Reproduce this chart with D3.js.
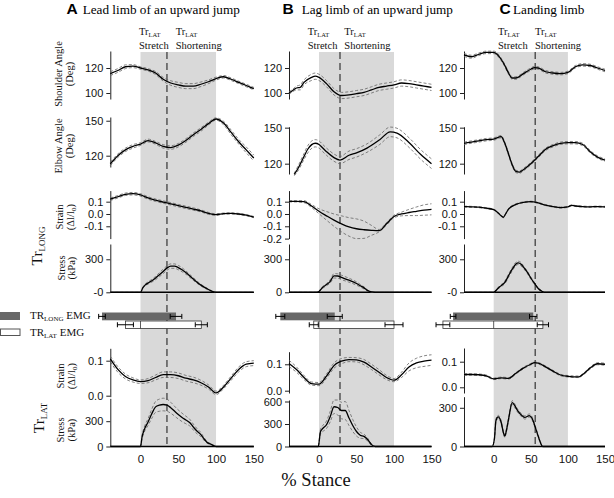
<!DOCTYPE html>
<html><head><meta charset="utf-8">
<script src="https://cdn.jsdelivr.net/npm/d3@7"></script>
<style>body{margin:0;background:#fff}svg{display:block}</style>
</head><body><svg id="c" width="614" height="498"></svg>
<script>
// ---------------- DATA ([% stance, mean, SD]) ----------------
const panelLetters = ["A", "B", "C"];
const panelTitles = ["Lead limb of an upward jump", "Lag limb of an upward jump", "Landing limb"];
const stanceTicks = [0, 50, 100, 150];
const phaseStart = 0, phaseEnd = 100;
const transitionStance = [35, 28, 56];

const shoulderA = [[-40,115.5,1.5],[-30,118,1.5],[-20,121,1.5],[-10,121.5,1.2],[0,120,1],[10,118.5,1],[20,116,1.2],[30,111,1.5],[40,108,1.8],[50,106.5,2],[60,105.5,2],[70,105.5,2],[80,107,1.8],[90,109,1.5],[100,111.5,1.2],[110,113,1],[120,111,1],[130,108.5,1],[140,106,1],[150,103.5,1]];
const shoulderB = [[-40,100,1],[-35,102,1],[-30,104,1.5],[-25,104.5,2],[-20,108.5,2],[-10,112.5,2.5],[-5,113.5,2.5],[0,112.5,2.5],[10,107.5,2.5],[20,101,2.5],[30,98,2.5],[40,98.5,2.5],[50,99.5,2.5],[60,100.5,2.5],[70,102.5,2.5],[80,104.5,2.5],[90,105.5,2.5],[100,106.5,2.5],[110,108,2.5],[120,107.5,2.5],[130,106.5,2.5],[140,105.5,2.5],[150,104.5,2.5]];
const shoulderC = [[-40,130.5,1.2],[-30,129,1.2],[-20,131,1],[-10,132.5,1],[0,132.5,1],[10,127,1],[15,122,1],[20,116,1],[25,112,1],[30,112,1],[40,115.5,1],[50,119,1],[55,120.3,1],[60,120,1],[70,117,1],[80,116,1],[90,115.5,1],[100,116.5,1],[110,121,1],[120,122.5,1],[130,122,1],[140,120,1],[150,118,1]];

const elbowA = [[-40,113,1.5],[-30,120,1.5],[-20,125,1.5],[-10,128,1.5],[0,130,1.2],[10,133,1.2],[20,131,1.2],[30,128,1.5],[40,127,1.5],[50,129,1.5],[60,133,1.5],[70,138,1.5],[80,142.5,1.5],[90,147.5,1.2],[100,151.5,1],[110,148,1.5],[120,140,2],[130,132,2],[140,125,2.5],[150,118,2.5]];
const elbowB = [[-33,111,1],[-28,116,2],[-20,126,2.5],[-15,132,3],[-5,137,3],[0,136,3],[5,133,3],[10,130,3],[20,125,3],[28,123,3],[40,127,3.5],[50,129,3.5],[64,133,3.5],[81,140,4],[95,146.5,4],[104,145.5,4],[121,137,4],[135,128,4],[150,120,4]];
const elbowC = [[-40,137,1],[-30,138,1],[-20,139,1],[-10,140,1],[0,140.5,1],[10,142.5,1],[15,137,1],[20,128,1],[25,119,1],[30,113.5,1],[35,113,1],[40,115,1],[50,120,1],[60,126,1],[70,132,1],[80,135,1],[90,137,1],[100,137.5,1],[110,137.5,1],[120,136,1],[130,130,1],[140,125.5,1],[150,123,1]];

const strainLongA = [[-40,0.12,0.01],[-30,0.14,0.01],[-20,0.16,0.01],[-10,0.165,0.01],[0,0.155,0.01],[10,0.13,0.01],[20,0.112,0.01],[30,0.097,0.01],[40,0.083,0.01],[50,0.068,0.01],[60,0.054,0.01],[70,0.04,0.01],[80,0.025,0.008],[90,0.005,0.008],[100,-0.005,0.006],[110,0.003,0.005],[120,0.005,0.005],[130,0.0,0.005],[140,-0.01,0.005],[150,-0.025,0.005]];
const strainLongB = [[-40,0.103,0.005],[-30,0.103,0.005],[-20,0.1,0.008],[-10,0.065,0.012],[0,0.022,0.02],[10,-0.015,0.035],[20,-0.05,0.05],[30,-0.08,0.065],[40,-0.105,0.075],[50,-0.12,0.08],[60,-0.128,0.07],[70,-0.133,0.04],[80,-0.136,0.01],[90,-0.08,0.01],[100,-0.02,0.01],[110,0.0,0.015],[120,0.012,0.025],[130,0.022,0.035],[140,0.032,0.042],[150,0.038,0.045]];
const strainLongC = [[-40,0.06,0.004],[-30,0.058,0.004],[-20,0.055,0.004],[-10,0.047,0.004],[0,0.035,0.004],[5,0.015,0.004],[10,-0.015,0.004],[13,-0.027,0.004],[16,0.0,0.004],[20,0.04,0.004],[30,0.078,0.004],[40,0.095,0.004],[50,0.1,0.004],[60,0.09,0.004],[70,0.072,0.004],[80,0.06,0.004],[90,0.052,0.004],[100,0.058,0.004],[105,0.07,0.004],[110,0.065,0.004],[120,0.06,0.004],[130,0.058,0.004],[140,0.06,0.004],[150,0.058,0.004]];

const stressLongA = [[-40,0,0],[0,0,0],[3,40,5],[6,65,8],[10,85,10],[15,105,12],[20,130,15],[25,160,18],[30,190,20],[35,220,20],[40,238,20],[45,238,20],[50,225,20],[55,205,18],[60,180,15],[70,120,12],[80,65,8],[90,25,5],[95,8,2],[100,0,0],[150,0,0]];
const stressLongB = [[-40,0,0],[-3,0,0],[0,8,3],[5,45,8],[10,70,10],[15,100,15],[20,150,20],[25,148,20],[30,135,20],[40,110,18],[50,80,15],[55,60,12],[60,40,10],[65,15,5],[70,3,2],[75,0,0],[150,0,0]];
const stressLongC = [[-40,0,0],[0,0,0],[5,30,5],[8,50,8],[12,70,10],[15,90,12],[20,150,15],[25,210,15],[30,258,15],[33,268,15],[37,255,15],[40,230,12],[45,185,10],[50,130,10],[55,80,8],[60,35,5],[65,10,3],[68,0,0],[150,0,0]];

const strainLatA = [[-40,0.105,0.008],[-30,0.075,0.008],[-20,0.055,0.007],[-10,0.045,0.006],[0,0.04,0.005],[10,0.043,0.006],[20,0.052,0.007],[30,0.06,0.008],[40,0.06,0.008],[50,0.057,0.008],[60,0.05,0.008],[70,0.045,0.008],[80,0.037,0.007],[90,0.025,0.006],[100,0.008,0.005],[110,0.025,0.005],[120,0.05,0.006],[130,0.075,0.007],[140,0.09,0.007],[150,0.093,0.007]];
const strainLatB = [[-40,0.103,0.012],[-30,0.08,0.01],[-20,0.05,0.008],[-10,0.027,0.006],[0,0.025,0.006],[10,0.055,0.008],[20,0.095,0.01],[30,0.112,0.01],[40,0.118,0.008],[50,0.117,0.008],[60,0.108,0.01],[70,0.09,0.01],[80,0.07,0.01],[90,0.05,0.008],[100,0.04,0.006],[110,0.06,0.01],[120,0.09,0.015],[130,0.105,0.018],[140,0.112,0.02],[150,0.116,0.02]];
const strainLatC = [[-40,0.05,0.003],[-30,0.05,0.003],[-20,0.049,0.003],[-10,0.045,0.003],[0,0.033,0.003],[10,0.037,0.003],[20,0.035,0.003],[30,0.055,0.003],[40,0.075,0.003],[50,0.09,0.003],[55,0.096,0.003],[60,0.094,0.003],[70,0.08,0.003],[80,0.063,0.003],[90,0.048,0.003],[100,0.043,0.003],[115,0.041,0.003],[120,0.05,0.003],[130,0.075,0.004],[140,0.092,0.004],[150,0.09,0.004]];

const stressLatA = [[-40,0,0],[0,0,0],[2,110,20],[5,200,30],[10,290,40],[15,390,55],[20,470,65],[25,490,72],[30,498,75],[35,490,72],[40,460,65],[48,395,55],[55,345,50],[60,315,45],[65,285,40],[70,230,35],[75,180,30],[79,150,25],[85,80,15],[88,50,10],[94,24,6],[98,5,2],[100,0,0],[150,0,0]];
const stressLatB = [[-40,0,0],[-1,0,0],[2,200,30],[5,240,40],[10,290,50],[15,400,70],[20,530,90],[25,520,100],[30,480,110],[35,480,120],[40,380,100],[45,280,80],[50,200,60],[55,150,40],[60,135,30],[65,90,20],[70,25,10],[75,0,0],[150,0,0]];
const stressLatC = [[-40,0,0],[-2,0,0],[1,60,8],[3,200,12],[6,230,12],[10,190,12],[13,110,10],[15,80,10],[17,120,10],[20,210,12],[25,340,15],[28,320,15],[32,280,12],[38,240,12],[42,225,12],[48,240,12],[52,215,12],[56,150,10],[60,80,8],[63,30,5],[66,0,0],[150,0,0]];

// EMG on/off: [onset, onsetSD, offset, offsetSD] per panel
const emgLong = [[-51,4.4,47,7.7],[-51.6,6,21,10],[-54.7,3.8,53.3,5]];
const emgLat  = [[-20,10.6,80.5,8],[-7,6,100,12],[-68.4,9.3,66.3,7.6]];

// tick values and labels per row, per panel
const tickVals = {
  shoulder:   [[100,120],[100,120],[100,120]],
  elbow:      [[120,150],[120,150],[120,150]],
  strainLong: [[-0.1,0,0.1],[-0.2,-0.1,0,0.1],[-0.1,0,0.1]],
  stressLong: [[0,300],[0,300],[0,300]],
  strainLat:  [[0,0.1],[0,0.1],[0,0.1]],
  stressLat:  [[0,300],[0,300,600],[0,300]]
};
const tickText = {
  shoulder:   [["100","120"],["100","120"],["100","120"]],
  elbow:      [["120","150"],["120","150"],["120","150"]],
  strainLong: [["-0.1","0.0","0.1"],["-0.2","-0.1","0.0","0.1"],["-0.1","0.0","0.1"]],
  stressLong: [["-0","300"],["0","300"],["-0","300"]],
  strainLat:  [["0.0","0.1"],["0.0","0.1"],["0.0","0.1"]],
  stressLat:  [["0","300"],["0","300","600"],["0","300"]]
};

const series = {
  shoulder:   [shoulderA, shoulderB, shoulderC],
  elbow:      [elbowA, elbowB, elbowC],
  strainLong: [strainLongA, strainLongB, strainLongC],
  stressLong: [stressLongA, stressLongB, stressLongC],
  strainLat:  [strainLatA, strainLatB, strainLatC],
  stressLat:  [stressLatA, stressLatB, stressLatC]
};

// ---------------- LAYOUT ----------------
const SERIF = '"Liberation Serif","Times New Roman",serif';
const SANS = '"Liberation Sans",Arial,sans-serif';
const panelX = [[110.3,253.8],[289,431.5],[464,605]];
const titleX = [[66.5,82.7],[282.5,301.7],[499.5,513]];
const annX = [[139,175.7],[307.7,344.3],[498,535]];
const rowGeom = {
  shoulder:   [{r:[99,51],d:[95.2,133.6]},{r:[99,51],d:[95.2,133.6]},{r:[99,51],d:[95.2,133.6]}],
  elbow:      [{r:[167,117],d:[110.3,153.2]},{r:[174,126.7],d:[111.4,150.8]},{r:[174,126.7],d:[111.4,150.8]}],
  strainLong: [{r:[238.6,190.6],d:[-0.2,0.19]},{r:[238.6,190.6],d:[-0.2,0.19]},{r:[238.6,190.6],d:[-0.2,0.19]}],
  stressLong: [{r:[292.3,244],d:[0,439]},{r:[292.3,244],d:[0,439]},{r:[292.3,244],d:[0,439]}],
  strainLat:  [{r:[396.7,348.3],d:[-0.00286,0.1354]},{r:[393,351.7],d:[-0.0087,0.1477]},{r:[393,348],d:[-0.0223,0.1535]}],
  stressLat:  [{r:[446.5,398.3],d:[0,571.6]},{r:[446.5,400],d:[0,620]},{r:[446.5,396.7],d:[0,386]}]
};
const rows = ["shoulder","elbow","strainLong","stressLong","strainLat","stressLat"];

const svg = d3.select("#c");

panelLetters.forEach((L, p) => {
  const x = d3.scaleLinear().domain([-40,150]).range(panelX[p]);
  const g = svg.append("g");

  // shaded stance phase
  g.append("rect").attr("x", x(phaseStart)).attr("y", 52)
    .attr("width", x(phaseEnd) - x(phaseStart)).attr("height", 446.5 - 52)
    .attr("fill", "#d9d9d9");

  // dashed transition line
  g.append("line").attr("x1", x(transitionStance[p])).attr("x2", x(transitionStance[p]))
    .attr("y1", 52).attr("y2", 446.5)
    .attr("stroke", "#555").attr("stroke-width", 1.5).attr("stroke-dasharray", "7,4");

  // title
  svg.append("text").attr("x", titleX[p][0]).attr("y", 14).text(L)
    .attr("font-family", SANS).attr("font-weight", "bold").attr("font-size", 15.5);
  svg.append("text").attr("x", titleX[p][1]).attr("y", 14).text(panelTitles[p])
    .attr("font-family", SERIF).attr("font-size", 13.2);

  // annotations
  annX[p].forEach((ax, i) => {
    const t = svg.append("text").attr("x", ax).attr("y", 34.5)
      .attr("font-family", SERIF).attr("font-size", 10.5).attr("fill", "#111");
    t.append("tspan").text("Tr");
    t.append("tspan").text("LAT").attr("font-size", 6.5).attr("dy", 2);
    svg.append("text").attr("x", ax).attr("y", 48.5).text(i === 0 ? "Stretch" : "Shortening")
      .attr("font-family", SERIF).attr("font-size", 10.5).attr("fill", "#111");
  });

  // rows
  rows.forEach(rk => {
    const geo = rowGeom[rk][p];
    const y = d3.scaleLinear().domain(geo.d).range(geo.r);
    const data = series[rk][p];
    const ax = g.append("g").attr("transform", `translate(${panelX[p][0]},0)`)
      .call(d3.axisLeft(y).tickValues(tickVals[rk][p]).tickSizeInner(4).tickSizeOuter(0).tickPadding(3)
        .tickFormat((d, i) => tickText[rk][p][i]));
    ax.selectAll("text").attr("font-family", SANS).attr("font-size", 11).attr("fill", "#111");
    ax.select(".domain").attr("stroke", "#222");
    ax.selectAll(".tick line").attr("stroke", "#222");

    if (rk === "stressLong" || rk === "stressLat") {
      g.append("line").attr("x1", panelX[p][0]).attr("x2", panelX[p][1])
        .attr("y1", y(0)).attr("y2", y(0)).attr("stroke", "#000").attr("stroke-width", 1.5);
    }
    const mk = f => d3.line().x(d => x(d[0])).y(f).curve(d3.curveMonotoneX);
    [1, -1].forEach(s => {
      g.append("path").datum(data).attr("d", mk(d => y(d[1] + s * d[2])))
        .attr("fill", "none").attr("stroke", "#666").attr("stroke-width", 0.8)
        .attr("stroke-dasharray", "3,2");
    });
    g.append("path").datum(data).attr("d", mk(d => y(d[1])))
      .attr("fill", "none").attr("stroke", "#000").attr("stroke-width", 1.3);

    if (rk === "stressLat") {
      const xa = g.append("g").attr("transform", `translate(0,${geo.r[0]})`)
        .call(d3.axisBottom(x).tickValues(stanceTicks).tickSize(0).tickPadding(8));
      xa.select(".domain").remove();
      xa.selectAll("text").attr("font-family", SANS).attr("font-size", 11.5).attr("fill", "#111");
    }
  });

  // EMG bars
  const bars = [
    {v: emgLong[p], y0: 312.5, h: 7.8, fill: "#686868", stroke: "none"},
    {v: emgLat[p],  y0: 321,   h: 7.5, fill: "#fff",    stroke: "#333"}
  ];
  bars.forEach((b, bi) => {
    g.append("rect").attr("x", x(b.v[0])).attr("y", b.y0)
      .attr("width", x(b.v[2]) - x(b.v[0])).attr("height", b.h)
      .attr("fill", b.fill).attr("stroke", b.stroke).attr("stroke-width", 0.8);
    if (bi === 1) {
      g.append("line").attr("x1", x(0)).attr("x2", x(0)).attr("y1", b.y0).attr("y2", b.y0 + b.h)
        .attr("stroke", "#333").attr("stroke-width", 0.8);
    }
    const cy = b.y0 + b.h / 2;
    [[b.v[0], b.v[1]], [b.v[2], b.v[3]]].forEach(([m, e]) => {
      g.append("line").attr("x1", x(m - e)).attr("x2", x(m + e)).attr("y1", cy).attr("y2", cy)
        .attr("stroke", "#000").attr("stroke-width", 1);
      [m - e, m + e].forEach(v => g.append("line").attr("x1", x(v)).attr("x2", x(v))
        .attr("y1", cy - 2.5).attr("y2", cy + 2.5).attr("stroke", "#000").attr("stroke-width", 1));
    });
  });
});

// left labels (panel A only)
function rotLabel(xp, yp, size, build) {
  const t = svg.append("text").attr("transform", `translate(${xp},${yp}) rotate(-90)`)
    .attr("text-anchor", "middle").attr("font-family", SERIF).attr("font-size", size).attr("fill", "#111");
  build(t);
}
const LS = 10.5;
rotLabel(62, 74, LS, t => t.text("Shoulder Angle"));
rotLabel(73, 74, LS, t => t.text("(Deg)"));
rotLabel(62, 146, LS, t => t.text("Elbow Angle"));
rotLabel(73, 146, LS, t => t.text("(Deg)"));
const strainLbl = t => { t.append("tspan").text("(Δl/l"); t.append("tspan").text("o").attr("font-size", 7.5).attr("dy", 2); t.append("tspan").text(")").attr("dy", -2); };
rotLabel(63, 217, LS, t => t.text("Strain"));
rotLabel(74, 217, LS, strainLbl);
rotLabel(65, 268, LS, t => t.text("Stress"));
rotLabel(75, 268, LS, t => t.text("(kPa)"));
rotLabel(64, 376, LS, t => t.text("Strain"));
rotLabel(75, 376, LS, strainLbl);
rotLabel(64, 430, LS, t => t.text("Stress"));
rotLabel(75, 430, LS, t => t.text("(kPa)"));
rotLabel(42, 246, 15.5, t => { t.append("tspan").text("Tr"); t.append("tspan").text("LONG").attr("font-size", 9).attr("dy", 3); });
rotLabel(44, 418, 15.5, t => { t.append("tspan").text("Tr"); t.append("tspan").text("LAT").attr("font-size", 9).attr("dy", 3); });

// legend
svg.append("rect").attr("x", 0).attr("y", 312).attr("width", 20).attr("height", 8).attr("fill", "#686868");
svg.append("rect").attr("x", 0.5).attr("y", 329).attr("width", 19.5).attr("height", 6.5)
  .attr("fill", "#fff").attr("stroke", "#555").attr("stroke-width", 1);
[["LONG", 318.5], ["LAT", 336]].forEach(([s, yy]) => {
  const t = svg.append("text").attr("x", 30).attr("y", yy).attr("font-family", SERIF)
    .attr("font-size", 11).attr("fill", "#111");
  t.append("tspan").text("TR");
  t.append("tspan").text(s).attr("font-size", 7).attr("dy", 2);
  t.append("tspan").text(" EMG").attr("dy", -2);
});

// x title
svg.append("text").attr("x", 316).attr("y", 486).attr("text-anchor", "middle")
  .attr("font-family", SERIF).attr("font-size", 18.5).attr("fill", "#111").text("% Stance");
</script></body></html>
